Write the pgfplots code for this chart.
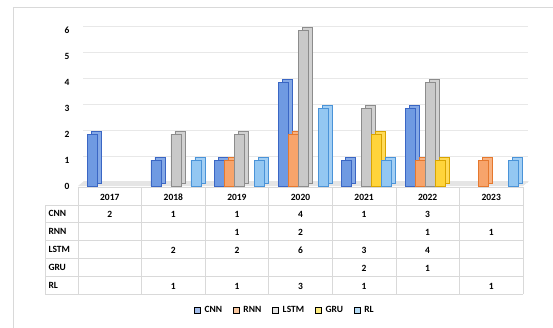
\documentclass[border=0pt]{standalone}
\usepackage{pgfplots}
\pgfplotsset{compat=1.18}
\usepackage{pgfplotstable}
\usepackage{fontspec}
\setmainfont{Carlito}

\definecolor{cnnF}{HTML}{6F9AE2}\definecolor{cnnD}{HTML}{3A66C4}\definecolor{cnnL}{HTML}{A3BDEB}
\definecolor{rnnF}{HTML}{F7A46B}\definecolor{rnnD}{HTML}{E5782E}\definecolor{rnnL}{HTML}{F8C69E}
\definecolor{lstmF}{HTML}{C9C9C9}\definecolor{lstmD}{HTML}{8C8C8C}\definecolor{lstmL}{HTML}{E3E3E3}
\definecolor{gruF}{HTML}{FFD43B}\definecolor{gruD}{HTML}{D9A400}\definecolor{gruL}{HTML}{FFEE80}
\definecolor{rlF}{HTML}{93C7F2}\definecolor{rlD}{HTML}{4A93D8}\definecolor{rlL}{HTML}{B5DBF6}

\pgfplotstableread{
x CNN RNN LSTM GRU RL
0 2   nan nan  nan nan
1 1   nan 2    nan 1
2 1   1   2    nan 1
3 4   2   6    nan 3
4 1   nan 3    2   1
5 3   1   4    1   nan
6 nan 1   nan  nan 1
}\datatable

\pgfplotsset{
  front/.style={ybar, bar width=10pt, line width=0.6pt, forget plot},
  back/.style={ybar, bar width=10pt, line width=0.6pt, yshift=3pt, forget plot},
  sq/.style={legend image code/.code={\fill[##1] (0pt,-3pt) rectangle (6pt,3pt);}},
}

\begin{document}
\begin{tikzpicture}[font=\bfseries\fontsize{9.5}{11}\selectfont]
\draw[gray!30, line width=0.8pt] (13.5pt,-5pt) -- (13.5pt,319.5pt) -- (560pt,319.5pt);

\begin{axis}[
  at={(78pt,141pt)}, anchor=south west, scale only axis,
  width=445pt, height=156pt,
  xmin=-0.5, xmax=6.5, ymin=0, ymax=6,
  axis line style={draw=none},
  xtick=\empty, ytick={0,...,6},
  major tick length=0pt,
  ymajorgrids,
  major grid style={draw=gray!18, line width=0.8pt, xshift=5pt, yshift=4pt},
  yticklabel style={xshift=-5pt},
  /pgf/number format/assume math mode=true,
  clip=false,
  legend columns=5,
  legend style={at={(0.465,-0.795)}, anchor=center, draw=none, fill=none,
    inner sep=0pt,
    /tikz/every odd column/.append style={column sep=2pt},
    /tikz/every even column/.append style={column sep=9pt}},
]
\fill[gray!20] (axis cs:-0.5,0) -- (axis cs:6.5,0) -- ([shift={(6pt,5pt)}]axis cs:6.5,0) -- ([shift={(6pt,5pt)}]axis cs:-0.5,0) -- cycle;

\addplot[back, bar shift=-13.5pt, fill=cnnF!85!white, draw=cnnD] table[x=x,y=CNN]{\datatable};
\addplot[front, bar shift=-17.5pt, fill=cnnF, draw=cnnD] table[x=x,y=CNN]{\datatable};
\addplot[back, bar shift=-3.5pt, fill=rnnF!85!white, draw=rnnD] table[x=x,y=RNN]{\datatable};
\addplot[front, bar shift=-7.5pt, fill=rnnF, draw=rnnD] table[x=x,y=RNN]{\datatable};
\addplot[back, bar shift=6.5pt, fill=lstmF!85!white, draw=lstmD] table[x=x,y=LSTM]{\datatable};
\addplot[front, bar shift=2.5pt, fill=lstmF, draw=lstmD] table[x=x,y=LSTM]{\datatable};
\addplot[back, bar shift=16.5pt, fill=gruF!85!white, draw=gruD] table[x=x,y=GRU]{\datatable};
\addplot[front, bar shift=12.5pt, fill=gruF, draw=gruD] table[x=x,y=GRU]{\datatable};
\addplot[back, bar shift=26.5pt, fill=rlF!85!white, draw=rlD] table[x=x,y=RL]{\datatable};
\addplot[front, bar shift=22.5pt, fill=rlF, draw=rlD] table[x=x,y=RL]{\datatable};

\addlegendimage{sq, fill=cnnL}\addlegendentry{CNN}
\addlegendimage{sq, fill=rnnL}\addlegendentry{RNN}
\addlegendimage{sq, fill=lstmL}\addlegendentry{LSTM}
\addlegendimage{sq, fill=gruL}\addlegendentry{GRU}
\addlegendimage{sq, fill=rlL}\addlegendentry{RL}
\end{axis}

\begin{axis}[
  at={(45pt,33pt)}, anchor=south west, scale only axis,
  width=478pt, height=107pt,
  xmin=-1.019, xmax=6.5, ymin=0, ymax=6,
  axis line style={draw=none},
  xtick={-0.5,0.5,...,6.5}, ytick={0,...,5},
  xticklabels={}, yticklabels={},
  major tick length=0pt,
  grid=major,
  major grid style={draw=gray!30, line width=0.6pt},
  clip=false,
]
\draw[gray!30, line width=0.6pt] (axis cs:-1.019,0) -- (axis cs:-1.019,5);
\draw[gray!30, line width=0.6pt] (axis cs:-0.5,6) -- (axis cs:6.5,6);

\addplot[draw=none, mark=none, nodes near coords, point meta=explicit symbolic,
  every node near coord/.append style={anchor=center, yshift=-1pt}]
  coordinates {
  (0,5.5) [2017] (1,5.5) [2018] (2,5.5) [2019] (3,5.5) [2020] (4,5.5) [2021] (5,5.5) [2022] (6,5.5) [2023]
  (0,4.5) [2] (1,4.5) [1] (2,4.5) [1] (3,4.5) [4] (4,4.5) [1] (5,4.5) [3]
  (2,3.5) [1] (3,3.5) [2] (5,3.5) [1] (6,3.5) [1]
  (1,2.5) [2] (2,2.5) [2] (3,2.5) [6] (4,2.5) [3] (5,2.5) [4]
  (4,1.5) [2] (5,1.5) [1]
  (1,0.5) [1] (2,0.5) [1] (3,0.5) [3] (4,0.5) [1] (6,0.5) [1]
  };
\addplot[draw=none, mark=none, nodes near coords, point meta=explicit symbolic,
  every node near coord/.append style={anchor=west}]
  coordinates {
  (-1.019,4.5) [CNN] (-1.019,3.5) [RNN] (-1.019,2.5) [LSTM] (-1.019,1.5) [GRU] (-1.019,0.5) [RL]
  };
\end{axis}
\pgfresetboundingbox
\path[use as bounding box] (0pt,0pt) rectangle (553pt,327pt);
\end{tikzpicture}
\end{document}
